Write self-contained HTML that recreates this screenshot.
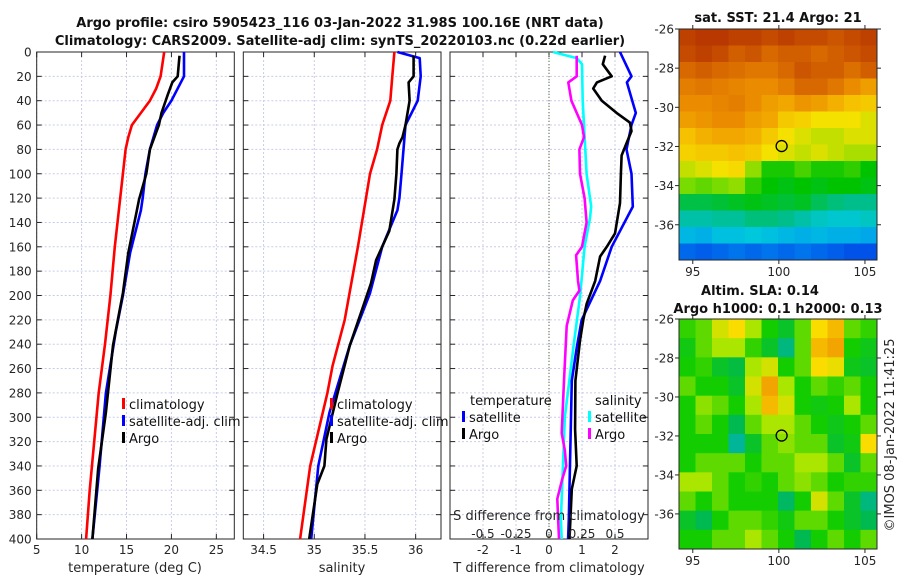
<!DOCTYPE html>
<html><head><meta charset="utf-8">
<style>
html,body{margin:0;padding:0;background:#fff;}
svg{display:block;font-family:"DejaVu Sans","Liberation Sans",sans-serif;}
</style></head>
<body>
<svg id="fig" width="900" height="580" viewBox="0 0 900 580" xmlns="http://www.w3.org/2000/svg">
<rect width="900" height="580" fill="#fff"/>
<text x="340" y="27" text-anchor="middle" font-size="13" font-weight="bold" fill="#111">Argo profile: csiro 5905423_116 03-Jan-2022 31.98S 100.16E (NRT data)</text>
<text x="340" y="45" text-anchor="middle" font-size="13" font-weight="bold" fill="#111">Climatology: CARS2009. Satellite-adj clim: synTS_20220103.nc (0.22d earlier)</text>
<g id="g"></g>
</svg>
<script>
// ---------- profile data ----------
const climTDepth=[0,10,20,30,40,50,60,70,80,100,120,160,200,240,280,320,360,400];
const climT=[19.2,19.0,18.8,18.3,17.6,16.6,15.6,15.2,14.9,14.6,14.3,13.7,13.2,12.6,11.9,11.4,10.9,10.5];
const satTDepth=[0,20,40,50,60,80,100,120,130,165,200,230,280,340,400];
const satT=[21.4,21.4,20.0,19.1,18.4,17.6,17.1,16.8,16.6,15.4,14.6,13.8,12.7,12.0,11.2];
const argoTDepth=[3,20,25,35,50,60,80,100,121,132,165,198,241,296,342,400];
const argoT=[20.9,20.7,20.1,19.6,18.9,18.6,17.6,17.2,16.4,16.1,15.2,14.6,13.5,12.7,11.85,11.2];

const climSDepth=[0,20,40,60,80,100,120,160,220,258,280,340,400];
const climS=[35.79,35.77,35.75,35.67,35.62,35.55,35.51,35.43,35.30,35.18,35.13,34.96,34.86];
const satSDepth=[0,5,20,40,50,60,80,100,120,130,160,198,241,296,340,400];
const satS=[35.82,36.04,36.05,36.02,35.96,35.90,35.88,35.86,35.84,35.82,35.67,35.55,35.35,35.15,35.04,34.97];
const argoSDepth=[3,20,25,40,60,70,75,80,100,121,147,171,190,212,241,280,318,340,355,400];
const argoS=[35.98,35.98,35.93,35.94,35.90,35.87,35.84,35.82,35.81,35.79,35.74,35.61,35.56,35.47,35.35,35.23,35.12,35.10,35.03,34.95];

const dTsatDepth=[0,20,25,50,60,80,100,127,160,188,220,243,270,384,400];
const dTsat=[2.15,2.5,2.36,2.63,2.5,2.35,2.5,2.54,1.9,1.55,0.99,0.84,0.69,0.6,0.58];
const dTargoDepth=[3,10,20,25,30,40,50,58,65,75,85,100,124,149,160,168,188,207,220,237,270,310,340,359,400];
const dTargo=[1.7,1.63,1.9,1.45,1.34,1.6,2.05,2.45,2.5,2.35,2.2,2.18,2.15,2.0,1.75,1.55,1.4,1.14,1.04,0.94,0.8,0.79,0.84,0.69,0.62];
const dSsatDepth=[0,5,10,40,60,100,127,137,160,201,243,270,300,384,400];
const dSsat=[0.03,0.21,0.25,0.255,0.265,0.285,0.32,0.31,0.27,0.235,0.184,0.154,0.12,0.09,0.096];
const dSargoDepth=[3,20,25,40,60,70,80,100,120,140,160,167,188,196,204,225,270,313,327,340,351,367,400];
const dSargo=[0.21,0.21,0.146,0.17,0.25,0.265,0.23,0.235,0.27,0.285,0.25,0.205,0.22,0.23,0.18,0.134,0.114,0.096,0.12,0.13,0.1,0.063,0.076];

// ---------- map data ----------
const sstGrid=[
[22.9,23,23,22.9,22.9,22.8,22.9,22.8,22.8,22.7,22.8,22.9],
[22.8,22.9,22.8,22.6,22.7,22.5,22.6,22.6,22.5,22.6,22.7,22.8],
[22.5,22.6,22.5,22.4,22.3,22.3,22.5,22.7,22.6,22.6,22.4,22.6],
[22.2,22.3,22.2,22.1,22.0,22.0,22.2,22.5,22.5,22.3,22.0,21.8],
[22.0,22.0,22.1,22.2,22.0,21.8,21.7,21.9,21.8,21.6,21.4,21.3],
[21.8,21.9,22.0,22.0,21.8,21.7,21.3,21.2,21.0,21.0,21.0,20.9],
[21.4,21.6,21.7,21.7,21.6,21.3,21.0,20.9,20.8,20.8,20.9,20.9],
[21.2,21.3,21.3,21.4,21.3,21.0,20.9,20.8,20.9,20.8,20.7,20.7],
[20.8,20.9,21.0,21.1,20.6,20.1,20.1,20.3,20.1,20.1,20.2,20.0],
[20.5,20.4,20.5,20.6,20.2,20.0,19.9,20.0,19.9,20.0,20.0,19.9],
[19.6,19.6,19.7,19.8,19.9,19.8,19.7,19.8,19.5,19.3,19.2,19.2],
[19.0,19.0,19.1,19.1,19.3,19.3,19.2,19.0,18.8,18.7,18.7,18.8],
[18.4,18.3,18.5,18.5,18.6,18.5,18.4,18.3,18.4,18.3,18.3,18.2],
[17.6,17.5,17.6,17.7,17.6,17.7,17.6,17.7,17.6,17.5,17.4,17.4]];
const slaGrid=[
[0.02,0.05,0.15,0.2,0.1,0.0,-0.05,0.05,0.2,0.25,0.05,0.02],
[-0.02,0.05,0.1,0.1,0.02,-0.05,-0.15,0.05,0.25,0.28,0.0,-0.03],
[0.0,0.02,-0.05,-0.08,0.1,0.15,0.0,0.05,0.2,0.18,-0.03,-0.05],
[0.05,0.0,0.0,-0.05,0.15,0.28,0.1,0.0,0.05,0.02,0.05,0.0],
[0.0,0.08,0.05,0.0,0.1,0.25,0.15,0.0,-0.02,0.0,0.1,0.0],
[0.0,0.05,0.0,-0.1,0.05,0.1,0.1,0.05,0.0,-0.03,0.0,0.05],
[0.0,0.0,0.0,-0.18,-0.05,0.05,0.08,0.05,0.05,-0.05,-0.02,0.2],
[0.0,0.05,0.05,0.05,0.0,0.05,0.05,0.1,0.1,0.05,-0.05,0.05],
[0.1,0.1,0.05,0.0,0.02,0.0,0.05,0.08,0.05,0.0,0.02,0.02],
[0.05,0.0,0.05,0.0,0.0,0.0,-0.12,0.0,0.15,0.05,-0.05,-0.15],
[-0.05,-0.1,0.0,0.05,0.05,0.02,-0.02,0.05,0.05,0.0,-0.05,-0.1],
[0.0,0.0,0.05,0.05,0.1,0.05,0.0,-0.1,0.0,0.05,0.0,0.05]];
const argoLon=100.16, argoLat=-31.98;
const depthTicks=[0,20,40,60,80,100,120,140,160,180,200,220,240,260,280,300,320,340,360,380,400];
const tTicks=[5,10,15,20,25];
const sTicks=[34.5,35,35.5,36];
const dTTicks=[-2,-1,0,1,2];
const dSTicks=[-0.5,-0.25,0,0.25,0.5];
const dSTickLabels=["-0.5","-0.25","0","0.25","0.5"];
const latTicks=[-26,-28,-30,-32,-34,-36];
const lonTicks=[95,100,105];

const NS="http://www.w3.org/2000/svg";
const G=document.getElementById('g');
function mk(tag,attrs,parent){const e=document.createElementNS(NS,tag);for(const k in attrs)e.setAttribute(k,attrs[k]);(parent||G).appendChild(e);return e;}
function txt(x,y,s,anchor,size,parent){const t=mk('text',{x:x,y:y,'text-anchor':anchor||'middle','font-size':size||12,fill:'#262626'},parent);t.textContent=s;return t;}

const TOP=52,BOT=539;
const yD=d=>TOP+(d/400)*(BOT-TOP);
function lin(d0,d1,r0,r1){return v=>r0+(v-d0)/(d1-d0)*(r1-r0);}

function panel(name,x0,x1,xs,ticks,labels,showY){
  const g=mk('g',{});
  
  
  ticks.forEach(t=>{mk('line',{x1:xs(t),x2:xs(t),y1:TOP,y2:BOT,stroke:'#c8cde8','stroke-width':1,'stroke-dasharray':'2,2'},g);});
  depthTicks.forEach(d=>{mk('line',{x1:x0,x2:x1,y1:yD(d),y2:yD(d),stroke:'#c8cde8','stroke-width':1,'stroke-dasharray':'2,2'},g);
    mk('line',{x1:x0,x2:x0+5,y1:yD(d),y2:yD(d),stroke:'#262626'},g);
    mk('line',{x1:x1-5,x2:x1,y1:yD(d),y2:yD(d),stroke:'#262626'},g);
    if(showY){const t=txt(x0-5,yD(d)+4.5,String(d),'end',12,g);}});
  ticks.forEach((t,i)=>{mk('line',{x1:xs(t),x2:xs(t),y1:BOT,y2:BOT-5,stroke:'#262626'},g);mk('line',{x1:xs(t),x2:xs(t),y1:TOP,y2:TOP+5,stroke:'#262626'},g);
    if(labels){const l=txt(xs(t),BOT+15,labels[i],'middle',12,g);}});
  mk('rect',{x:x0,y:TOP,width:x1-x0,height:BOT-TOP,fill:'none',stroke:'#262626','stroke-width':1},g);
  return g;
}
function line(g,name,xs,vals,deps,color){
  const p=mk('polyline',{points:vals.map((v,i)=>xs(v).toFixed(1)+','+yD(deps[i]).toFixed(1)).join(' '),fill:'none',stroke:color,'stroke-width':2.6,'stroke-linejoin':'round'},g);
  
  
}
function legend(g,x,y,items){
  items.forEach((it,i)=>{mk('rect',{x:x,y:y+i*17-11,width:3,height:11,fill:it[1]},g);
    const t=txt(x+7,y+i*17,it[0],'start',13,g);t.setAttribute('fill','#111');
    
    });
}

// Panel 1: temperature
const xT=lin(5,27,36.7,234.3);
const p1=panel('temperature-panel',36.7,234.3,xT,tTicks,tTicks.map(String),true);
line(p1,'climatology-temperature-line',xT,climT,climTDepth,'#ff0000');
line(p1,'satellite-temperature-line',xT,satT,satTDepth,'#0000ff');
line(p1,'argo-temperature-line',xT,argoT,argoTDepth,'#000000');
legend(p1,122,409,[['climatology','#ff0000'],['satellite-adj. clim','#0000ff'],['Argo','#000']]);
txt(135,572,'temperature (deg C)','middle',13,p1);

// Panel 2: salinity
const xS=lin(34.3,36.25,243.3,441);
const p2=panel('salinity-panel',243.3,441,xS,sTicks,sTicks.map(String),false);
line(p2,'climatology-salinity-line',xS,climS,climSDepth,'#ff0000');
line(p2,'satellite-salinity-line',xS,satS,satSDepth,'#0000ff');
line(p2,'argo-salinity-line',xS,argoS,argoSDepth,'#000000');
legend(p2,330,409,[['climatology','#ff0000'],['satellite-adj. clim','#0000ff'],['Argo','#000']]);
txt(342,572,'salinity','middle',13,p2);

// Panel 3: differences
const xdT=lin(-3,3,450,648);
const xdS=lin(-0.75,0.75,450,648);
const p3=panel('difference-panel',450,648,xdT,dTTicks,dTTicks.map(String),false);
mk('line',{x1:xdT(0),x2:xdT(0),y1:TOP,y2:BOT,stroke:'#556b2f','stroke-width':1,'stroke-dasharray':'1,2'},p3);
line(p3,'satellite-salinity-diff-line',xdS,dSsat,dSsatDepth,'#00ffff');
line(p3,'argo-salinity-diff-line',xdS,dSargo,dSargoDepth,'#ff00ff');
line(p3,'satellite-temperature-diff-line',xdT,dTsat,dTsatDepth,'#0000ff');
line(p3,'argo-temperature-diff-line',xdT,dTargo,dTargoDepth,'#000000');
txt(470,405,'temperature','start',13,p3).setAttribute('fill','#111');
legend(p3,462,422,[['satellite','#0000ff'],['Argo','#000']]);
txt(595,405,'salinity','start',13,p3).setAttribute('fill','#111');
legend(p3,588,422,[['satellite','#00ffff'],['Argo','#ff00ff']]);
txt(549,520,'S difference from climatology','middle',13,p3);
dSTicks.forEach((t,i)=>{const l=txt(xdS(t),538,dSTickLabels[i],'middle',12,p3);});
txt(549,572,'T difference from climatology','middle',13,p3);

// ---------- maps ----------
// colour anchors [value, r, g, b]
const sstCmap=[[17.2,0,60,230],[18,0,150,240],[18.6,0,200,220],[19.2,0,190,140],[20,0,195,0],[20.5,120,220,0],[21,245,225,0],[21.5,245,185,0],[22,235,140,0],[22.5,215,105,0],[23,185,55,0]];
const slaCmap=[[-0.3,0,220,235],[-0.2,0,180,170],[-0.1,0,185,80],[0,20,205,0],[0.1,170,230,0],[0.2,250,220,0],[0.3,240,150,0]];
function cmap(anch,v){
  if(v<=anch[0][0])return 'rgb('+anch[0].slice(1).join(',')+')';
  for(let i=1;i<anch.length;i++){if(v<=anch[i][0]){const a=anch[i-1],b=anch[i],f=(v-a[0])/(b[0]-a[0]);
    return 'rgb('+[1,2,3].map(k=>Math.round(a[k]+f*(b[k]-a[k]))).join(',')+')';}}
  return 'rgb('+anch[anch.length-1].slice(1).join(',')+')';
}
function map(name,X0,X1,Y0,Y1,latTop,latBot,grid,anch){
  const g=mk('g',{});
  
  
  const lx=lin(94.2,105.7,X0,X1), ly=lin(latTop,latBot,Y0,Y1);
  const rows=grid.length, cols=grid[0].length;
  const dlon=(105.7-94.2)/cols, dlat=(latBot-latTop)/rows;
  grid.forEach((row,r)=>row.forEach((v,c)=>{
    const x=lx(94.2+c*dlon), y=ly(latTop+r*dlat);
    const cell=mk('rect',{x:x.toFixed(2),y:y.toFixed(2),width:(lx(94.2+(c+1)*dlon)-x+0.4).toFixed(2),height:(ly(latTop+(r+1)*dlat)-y+0.4).toFixed(2),fill:cmap(anch,v)},g);
    
    
  }));
  mk('rect',{x:X0,y:Y0,width:X1-X0,height:Y1-Y0,fill:'none',stroke:'#262626'},g);
  latTicks.forEach(t=>{const y=ly(t);mk('line',{x1:X0-4,x2:X0,y1:y,y2:y,stroke:'#262626'},g);mk('line',{x1:X1,x2:X1+4,y1:y,y2:y,stroke:'#262626'},g);
    const l=txt(X0-5,y+4.5,String(t),'end',12,g);});
  lonTicks.forEach(t=>{const x=lx(t);mk('line',{x1:x,x2:x,y1:Y1,y2:Y1+4,stroke:'#262626'},g);mk('line',{x1:x,x2:x,y1:Y0-4,y2:Y0,stroke:'#262626'},g);
    const l=txt(x,Y1+16,String(t),'middle',12,g);});
  const m=mk('circle',{cx:lx(argoLon),cy:ly(argoLat),r:5.5,fill:'none',stroke:'#000','stroke-width':1.3},g);
  
  
}
map('sst-map',679,877,29,260,-26,-37.8,sstGrid,sstCmap);
map('sla-map',679,877,319,549,-26,-37.8,slaGrid,slaCmap);
const t1=txt(778,22,'sat. SST: 21.4 Argo: 21','middle',13);t1.setAttribute('font-weight','bold');t1.setAttribute('fill','#111');

const t2=txt(760,295,'Altim. SLA: 0.14','middle',13);t2.setAttribute('font-weight','bold');t2.setAttribute('fill','#111');

const t3=txt(778,313,'Argo h1000: 0.1 h2000: 0.13','middle',13);t3.setAttribute('font-weight','bold');t3.setAttribute('fill','#111');

const t4=txt(0,0,'©IMOS 08-Jan-2022 11:41:25','middle',13);t4.setAttribute('transform','translate(894,435) rotate(-90)');

</script>
</body></html>
